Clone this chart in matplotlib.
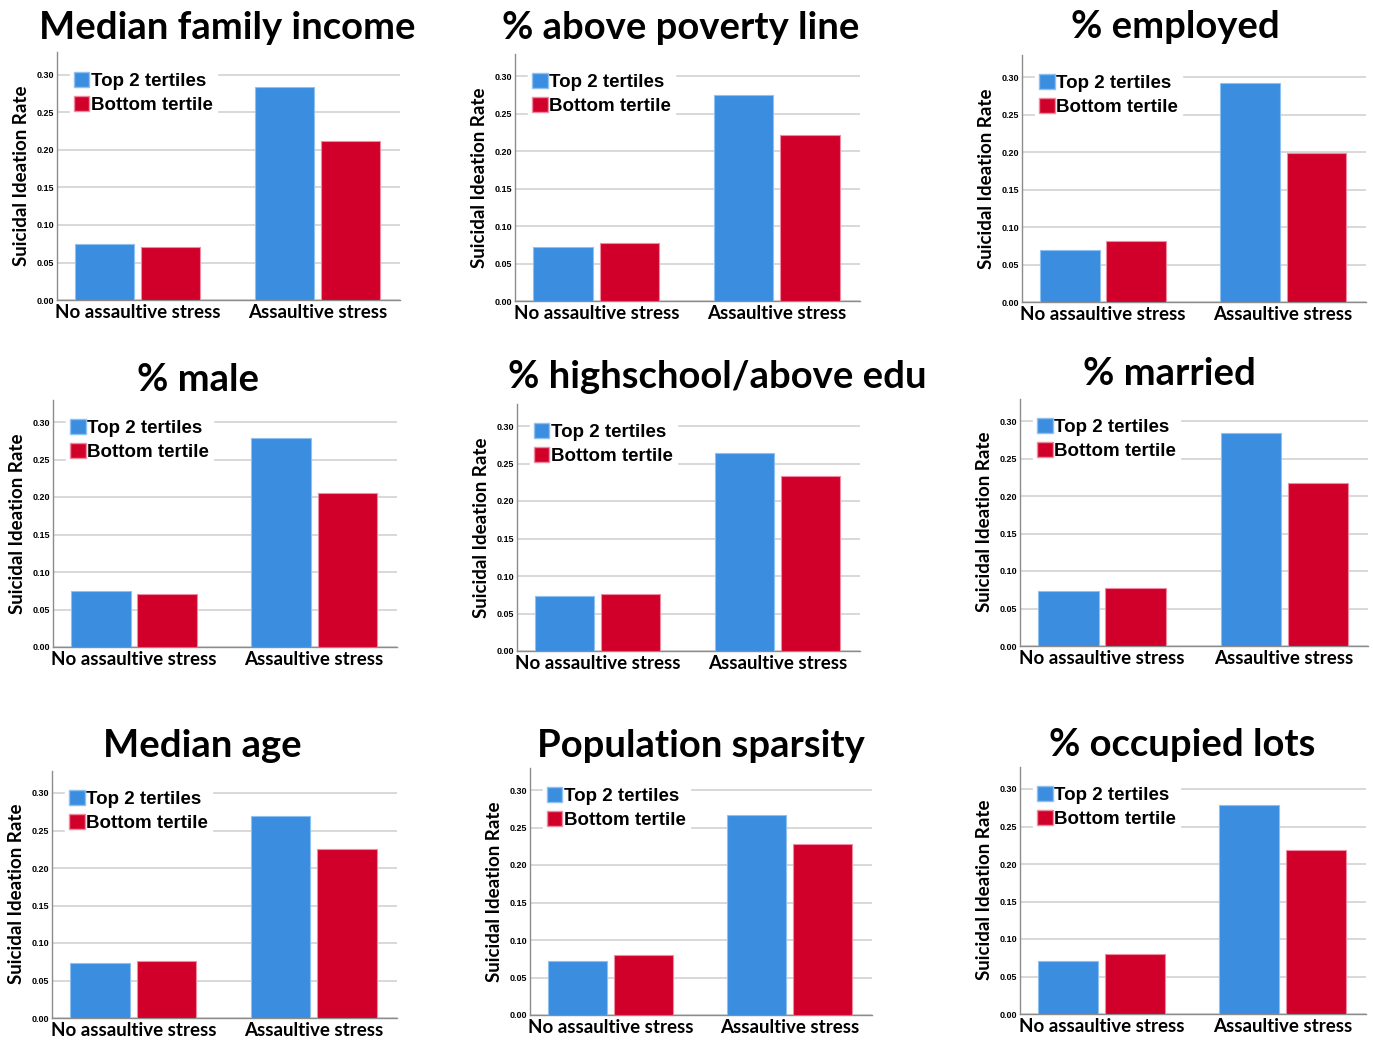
import numpy as np
import matplotlib
matplotlib.use("Agg")
import matplotlib.pyplot as plt
from matplotlib.patches import Patch

# panel titles and read-off values (no assaultive stress, assaultive stress)
titles = ["Median family income", "% above poverty line", "% employed",
          "% male", "% highschool/above edu", "% married",
          "Median age", "Population sparsity", "% occupied lots"]
top2 = [[0.075, 0.284], [0.072, 0.275], [0.069, 0.292],
        [0.075, 0.279], [0.073, 0.264], [0.073, 0.284],
        [0.073, 0.269], [0.072, 0.267], [0.071, 0.279]]
bottom = [[0.071, 0.212], [0.077, 0.222], [0.081, 0.199],
          [0.071, 0.205], [0.076, 0.233], [0.078, 0.218],
          [0.076, 0.225], [0.080, 0.228], [0.080, 0.219]]
groups = ["No assaultive stress", "Assaultive stress"]
yticks = [0.00, 0.05, 0.10, 0.15, 0.20, 0.25, 0.30]

# pixel boxes (left, right, bottom of axis) and title centres
boxes = [(57, 400, 300), (515, 860, 301), (1022, 1366, 302),
         (53, 397, 647), (517, 860, 651), (1020, 1368, 646),
         (52, 397, 1018), (530, 872, 1015), (1020, 1366, 1014)]
title_pos = [(227, 28), (681, 28), (1175, 27),
             (198, 380), (717, 377), (1169, 374),
             (202, 746), (701, 746), (1182, 745)]

W, H = 1373, 1040
blue = "#3a8ddf"
red = "#d0002b"

fig = plt.figure(figsize=(W / 100, H / 100), dpi=100)

for i in range(9):
    l, r, b = boxes[i]
    hpx = 225 / 0.30 * 0.33
    ax = fig.add_axes([l / W, 1 - b / H, (r - l) / W, hpx / H])
    x = np.arange(2)
    w = 0.33
    ax.bar(x - 0.184, top2[i], w, color=blue, edgecolor="#8ec0f0", linewidth=0.8, zorder=3)
    ax.bar(x + 0.184, bottom[i], w, color=red, edgecolor="#f08aa0", linewidth=0.8, zorder=3)
    ax.set_xlim(-0.45, 1.46)
    ax.set_ylim(0, 0.33)
    ax.set_yticks(yticks)
    ax.set_yticklabels(["%.2f" % v for v in yticks], fontsize=6.5,
                       fontweight="bold", family="Liberation Sans")
    ax.set_xticks(x)
    ax.set_xticklabels(groups, fontsize=13.5, fontweight="bold", family="Lato")
    ax.tick_params(axis="both", length=0, pad=2)
    ax.tick_params(axis="x", pad=3)
    ax.yaxis.grid(True, color="#d6d6d6", linewidth=1.3, zorder=0)
    ax.set_axisbelow(True)
    for s in ["top", "right"]:
        ax.spines[s].set_visible(False)
    for s in ["left", "bottom"]:
        ax.spines[s].set_color("#8c8c8c")
        ax.spines[s].set_linewidth(1.0)
    ax.set_ylabel("Suicidal Ideation Rate", fontsize=13.5, fontweight="bold",
                  family="Lato", labelpad=5)
    handles = [Patch(facecolor=blue, edgecolor="#8ec0f0"),
               Patch(facecolor=red, edgecolor="#f08aa0")]
    leg = ax.legend(handles, ["Top 2 tertiles", "Bottom tertile"], loc="upper left",
                    bbox_to_anchor=(0.01, 0.975), frameon=True, fancybox=False,
                    framealpha=1, edgecolor="white", handlelength=0.85,
                    handleheight=0.85, handletextpad=0.1, labelspacing=0.35,
                    borderpad=0.2, prop={"family": "Liberation Sans",
                                         "weight": "bold", "size": 13.5})
    leg.set_zorder(5)
    tx, ty = title_pos[i]
    fig.text(tx / W, 1 - ty / H, titles[i], ha="center", va="center",
             fontsize=27.5, fontweight="bold", family="Lato")

fig.savefig("out.png", dpi=100)
